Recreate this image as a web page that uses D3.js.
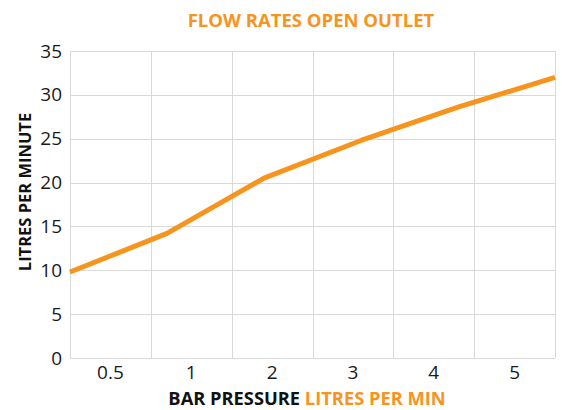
<!DOCTYPE html>
<html>
<head>
<meta charset="utf-8">
<script src="https://cdn.jsdelivr.net/npm/d3@7"></script>
<style>
  body { margin: 0; background: #fff; }
  svg { display: block; font-family: "Open Sans", "Noto Sans", sans-serif; }
</style>
</head>
<body>
<div id="chart"></div>
<script>
// bar pressure categories and flow (litres per minute)
const pressures = ['0.5', '1', '2', '3', '4', '5']
const flow = [9.8, 14.2, 20.5, 24.8, 28.6, 32]
const yTicks = [0, 5, 10, 15, 20, 25, 30, 35]

const width = 562, height = 410
const margin = { top: 51, right: 7, bottom: 52, left: 70 }
const orange = '#f7941d'
const grid = '#d9d9d9'

const svg = d3.select('#chart').append('svg')
    .attr('width', width)
    .attr('height', height)

// band scale for the labels, point scale for the line (edge to edge, like the original)
const xBand = d3.scaleBand().domain(pressures).range([margin.left, width - margin.right])
const xPoint = d3.scalePoint().domain(pressures).range([margin.left, width - margin.right])
const y = d3.scaleLinear().domain([0, 35]).range([height - margin.bottom, margin.top])

// horizontal gridlines
svg.append('g')
    .selectAll('line')
    .data(yTicks)
    .enter().append('line')
    .attr('x1', margin.left)
    .attr('x2', width - margin.right)
    .attr('y1', d => Math.round(y(d)) + 0.5)
    .attr('y2', d => Math.round(y(d)) + 0.5)
    .attr('stroke', grid)

// vertical gridlines at band edges
const edges = pressures.map(p => xBand(p)).concat([width - margin.right])
svg.append('g')
    .selectAll('line')
    .data(edges)
    .enter().append('line')
    .attr('x1', d => Math.round(d) + 0.5)
    .attr('x2', d => Math.round(d) + 0.5)
    .attr('y1', y(35))
    .attr('y2', y(0))
    .attr('stroke', grid)

// y axis labels
const yAxis = svg.append('g')
    .attr('transform', `translate(${margin.left},0)`)
    .call(d3.axisLeft(y).tickValues(yTicks).tickSize(0).tickPadding(8))
yAxis.select('.domain').remove()
yAxis.selectAll('text')
    .style('font-size', '19px')
    .style('fill', '#1a1a1a')
    .style('font-family', '"Open Sans", sans-serif')

// x axis labels
const xAxis = svg.append('g')
    .attr('transform', `translate(0,${y(0)})`)
    .call(d3.axisBottom(xBand).tickSize(0).tickPadding(8))
xAxis.select('.domain').remove()
xAxis.selectAll('text')
    .style('font-size', '19px')
    .style('fill', '#1a1a1a')
    .style('font-family', '"Open Sans", sans-serif')

// flow line
const line = d3.line()
    .x((d, i) => xPoint(pressures[i]))
    .y(d => y(d))

svg.append('path')
    .datum(flow)
    .attr('d', line)
    .attr('fill', 'none')
    .attr('stroke', orange)
    .attr('stroke-width', 5)
    .attr('stroke-linejoin', 'round')

// title
svg.append('text')
    .attr('x', 311)
    .attr('y', 27)
    .attr('text-anchor', 'middle')
    .style('font-size', '18.5px')
    .style('font-weight', 'bold')
    .style('fill', orange)
    .text('FLOW RATES OPEN OUTLET')

// x title, two colours
const xt = svg.append('text')
    .attr('x', 307)
    .attr('y', 405)
    .attr('text-anchor', 'middle')
    .style('font-size', '18.3px')
    .style('font-weight', 'bold')
xt.append('tspan').style('fill', '#111').text('BAR PRESSURE ')
xt.append('tspan').style('fill', orange).text('LITRES PER MIN')

// y title
svg.append('text')
    .attr('transform', `translate(31,192) rotate(-90)`)
    .attr('text-anchor', 'middle')
    .style('font-size', '16.5px')
    .style('font-weight', 'bold')
    .style('fill', '#111')
    .text('LITRES PER MINUTE')
</script>
</body>
</html>
